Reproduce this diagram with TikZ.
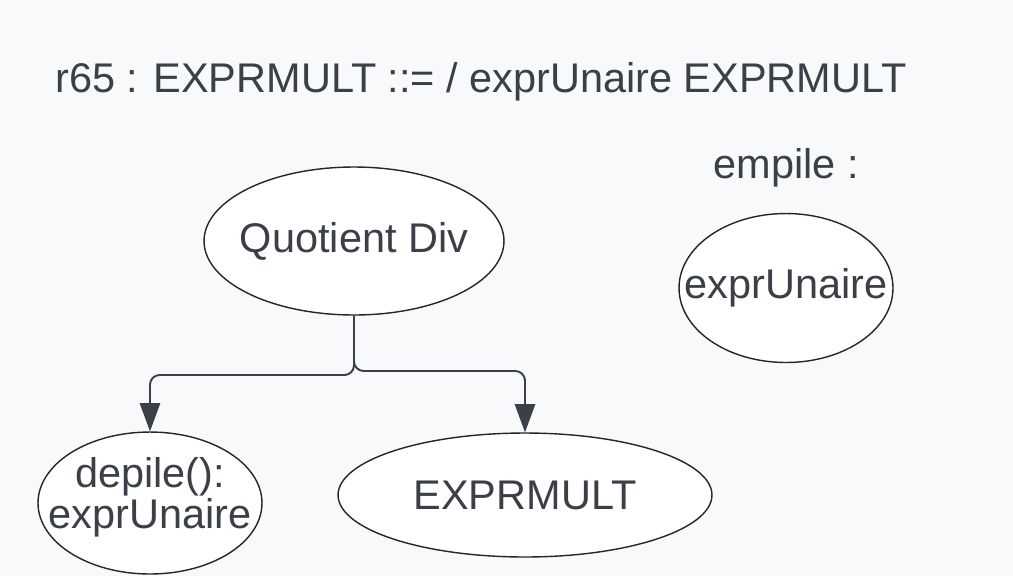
\documentclass[tikz,border=0pt]{standalone}
\usepackage{fontspec}
\setmainfont{Liberation Sans}
\usepackage{xcolor}
\usetikzlibrary{shapes.geometric,arrows.meta,positioning}
\definecolor{fond}{HTML}{F8F9FB}
\definecolor{encre}{HTML}{3A3F48}

\begin{document}
\begin{tikzpicture}[x=0.02cm,y=-0.02cm,
		etat/.style={ellipse,draw=black!85,line width=0.8pt,fill=white,inner sep=0pt},
		every label/.style={text=encre,align=center,inner sep=0pt},
		texte/.style={text=encre,inner sep=0pt},
		fleche/.style={-{Triangle[length=16pt,width=11.5pt]},draw=encre,line width=1.1pt,rounded corners=5.5pt},
		font=\fontsize{23.6pt}{23.4pt}\selectfont]
			\fill[fond] (0,0) rectangle (1013,576);
			\useasboundingbox (0,0) rectangle (1013,576);

			\node[texte,anchor=base west] (regle) at (55,92) {r65 : EXPRMULT ::= / exprUnaire EXPRMULT};
			\node[texte,anchor=base] (pile) at (786,178) {empile :};

			\node[etat,minimum width=6cm,minimum height=2.96cm,label=center:{Quotient Div}] (quot) at (354,241) {};
			\node[etat,minimum width=4.28cm,minimum height=2.98cm,label=center:{exprUnaire}] (empU) at (786,288) {};
			\node[etat,minimum width=4.48cm,minimum height=2.84cm,label={[yshift=3.5pt]center:{depile():\\exprUnaire}}] (depU) at (150,503) {};
			\node[etat,minimum width=7.48cm,minimum height=2.48cm,label=center:{EXPRMULT}] (mult) at (525,495) {};

			\coordinate (coinG) at (150,375);
			\coordinate (coinD) at (525,371);

			\draw[fleche] (quot.south) |- (coinG) -- (depU.north);
			\draw[fleche] (quot.south) |- (coinD) -- (mult.north);
\end{tikzpicture}
\end{document}
